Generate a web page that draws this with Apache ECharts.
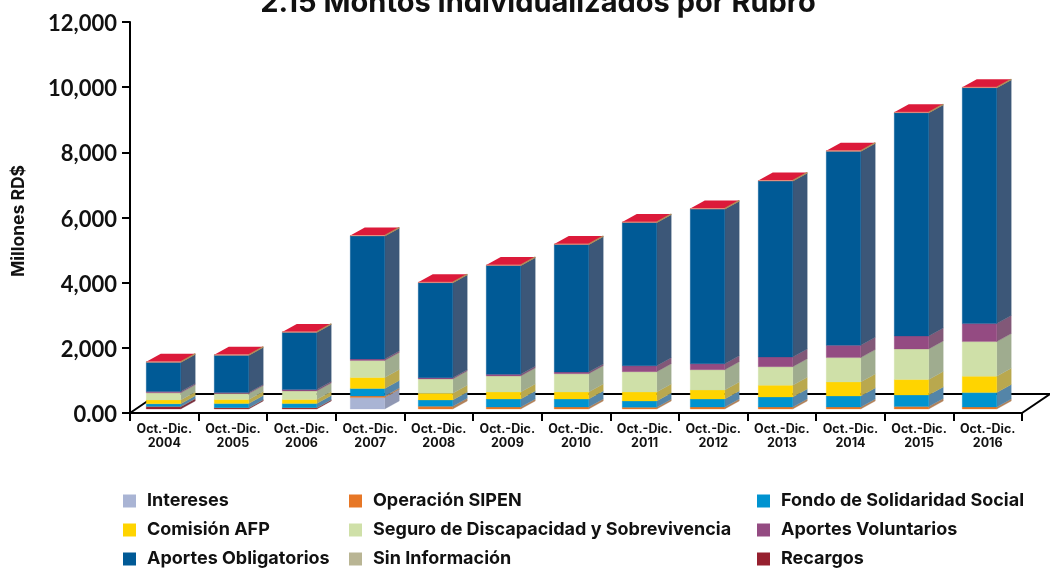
<!DOCTYPE html>
<html>
<head>
<meta charset="utf-8">
<style>html,body{margin:0;padding:0;background:#fff}#c{width:1050px;height:568px}</style>
<script src="https://cdn.jsdelivr.net/npm/echarts@6/dist/echarts.min.js"></script>
</head>
<body>
<div id="c"></div>
<script>
const categories = ['2004','2005','2006','2007','2008','2009','2010','2011','2012','2013','2014','2015','2016'];
const yTickLabels = ['0.00','2,000','4,000','6,000','8,000','10,000','12,000'];

const recargosBase  = [70,30,30,0,0,0,0,0,0,0,0,0,0];
const intereses     = [0,0,0,350,0,0,0,0,0,0,0,0,0];
const sipen         = [10,12,12,50,83,61,61,52,61,61,61,74,61];
const fondo         = [80,123,123,227,193,245,245,193,245,307,338,356,442];
const comision      = [120,123,123,338,205,215,215,276,276,359,430,473,500];
const seguro        = [215,184,264,522,440,491,562,623,623,571,749,939,1065];
const voluntarios   = [40,35,43,50,40,52,52,184,184,298,378,399,553];
const obligatorios  = [900,1145,1760,3775,2915,3340,3914,4396,4749,5403,5956,6852,7239];
const sinInfo       = [8,8,8,8,8,8,8,8,8,8,8,8,8];
const recargosTop   = [4,4,4,4,4,4,4,4,4,4,4,4,4];

const layers = [
  {name:'Recargos', values:recargosBase, color:'#96202F', side:'#7a3040'},
  {name:'Intereses', values:intereses, color:'#A9B4D4', side:'#9098B3'},
  {name:'Operación SIPEN', values:sipen, color:'#E77726', side:'#B2825A'},
  {name:'Fondo de Solidaridad Social', values:fondo, color:'#0093D0', side:'#5485A8'},
  {name:'Comisión AFP', values:comision, color:'#FFD400', side:'#B9A84E'},
  {name:'Seguro de Discapacidad y Sobrevivencia', values:seguro, color:'#CFE0A8', side:'#9FAC8F'},
  {name:'Aportes Voluntarios', values:voluntarios, color:'#944B82', side:'#825878'},
  {name:'Aportes Obligatorios', values:obligatorios, color:'#005A96', side:'#3C5778'},
  {name:'Sin Información', values:sinInfo, color:'#B9B594', side:'#A89A78'},
  {name:'Recargos', values:recargosTop, color:'#96202F', side:'#B08A5A', cap:'#DC1A3A'}
];
const legendColumns = [
  {left:123, names:['Intereses','Comisión AFP','Aportes Obligatorios']},
  {left:349, names:['Operación SIPEN','Seguro de Discapacidad y Sobrevivencia','Sin Información']},
  {left:757, names:['Fondo de Solidaridad Social','Aportes Voluntarios','Recargos']}
];

const FONT = 'Inter, "Open Sans", sans-serif';
const NUMFONT = 'Lato, "Open Sans", sans-serif';
const DX = 14.5, DY = -8, BAR = 34.5;

function barRender(layer) {
  return function (params, api) {
    const i = api.value(0), lo = api.value(1), hi = api.value(2);
    if (hi <= lo) return null;
    const a = api.coord([i, lo]), b = api.coord([i, hi]);
    const x = a[0] - BAR / 2, xr = x + BAR, yb = a[1], yt = b[1];
    const kids = [
      {type:'polygon', shape:{points:[[xr,yt],[xr+DX,yt+DY],[xr+DX,yb+DY],[xr,yb]]},
       style:{fill:layer.side, stroke:layer.side, lineWidth:0.3}},
      {type:'rect', shape:{x:x, y:yt, width:BAR, height:yb-yt},
       style:{fill:layer.color, stroke:layer.color, lineWidth:0.3}}
    ];
    if (layer.cap) {
      kids.push({type:'polygon', shape:{points:[[x,yt],[xr,yt],[xr+DX,yt+DY],[x+DX,yt+DY]]},
        style:{fill:layer.cap}});
      kids.push({type:'line', shape:{x1:xr,y1:yt,x2:xr+DX,y2:yt+DY},
        style:{stroke:'#B08A5A', lineWidth:1.4}});
      kids.push({type:'line', shape:{x1:x,y1:yt,x2:xr,y2:yt},
        style:{stroke:'#F2A58E', lineWidth:0.8}});
    }
    return {type:'group', children:kids};
  };
}

const running = categories.map(() => 0);
const barSeries = layers.map(layer => {
  const data = layer.values.map((v, i) => {
    const lo = running[i];
    running[i] += v;
    return [i, lo, running[i]];
  });
  return {
    type:'custom', name:layer.name, xAxisIndex:1, yAxisIndex:1, z:3,
    coordinateSystem:'cartesian2d', clip:false, silent:true,
    itemStyle:{color:layer.color},
    encode:{x:0, y:[1,2]},
    renderItem:barRender(layer), data:data
  };
});

const floorSeries = {
  type:'custom', name:'Piso', xAxisIndex:0, yAxisIndex:0, z:1, silent:true, clip:false,
  coordinateSystem:'cartesian2d', encode:{x:0,y:1}, data:[[0,0]],
  renderItem:function (params, api) {
    const cs = params.coordSys, bottom = cs.y + cs.height, right = cs.x + cs.width;
    const ln = (x1,y1,x2,y2) => ({type:'line', shape:{x1,y1,x2,y2}, style:{stroke:'#000', lineWidth:2}});
    return {type:'group', children:[
      ln(cs.x, bottom, cs.x+28, bottom-19),
      ln(cs.x+28, bottom-19, right+28, bottom-19),
      ln(right, bottom, right+28, bottom-19)
    ]};
  }
};

const chart = echarts.init(document.getElementById('c'), null, {renderer:'canvas'});
chart.setOption({
  animation:false,
  backgroundColor:'#fff',
  title:{text:'2.15 Montos Individualizados por Rubro', left:533, top:-16, textAlign:'center',
    textStyle:{fontFamily:FONT, fontWeight:'bold', fontSize:29, color:'#111'}},
  legend:legendColumns.map(c => ({
    orient:'vertical', left:c.left, top:492, height:90, padding:0, itemWidth:13, itemHeight:13, itemGap:11,
    icon:'rect', data:c.names, selectedMode:false,
    textStyle:{fontFamily:FONT, fontWeight:'bold', fontSize:18, lineHeight:18, color:'#111', padding:[0,0,0,6]}
  })),
  grid:[
    {left:130, width:892, top:22, height:391},
    {left:129.5, width:884, top:18, height:391}
  ],
  xAxis:[
    {type:'category', gridIndex:0, data:categories,
     axisLine:{lineStyle:{color:'#000', width:2}},
     axisTick:{show:true, length:8, interval:0, lineStyle:{color:'#000', width:2}},
     axisLabel:{interval:0, margin:9, fontFamily:FONT, fontWeight:'bold', fontSize:12.5, lineHeight:14, color:'#111',
       formatter:v => 'Oct.-Dic.\n' + v}},
    {type:'category', gridIndex:1, data:categories, show:false}
  ],
  yAxis:[
    {type:'value', gridIndex:0, min:0, max:12000, interval:2000,
     name:'Millones RD$', nameLocation:'middle', nameGap:102, nameRotate:90,
     nameTextStyle:{fontFamily:FONT, fontWeight:'bold', fontSize:17.5, color:'#111', padding:[0,7,0,0]},
     splitLine:{show:false},
     axisLine:{show:true, lineStyle:{color:'#000', width:2}},
     axisTick:{show:true, length:8, lineStyle:{color:'#000', width:2}},
     axisLabel:{margin:13, fontFamily:NUMFONT, fontWeight:'bold', fontSize:22, color:'#111',
       verticalAlign:'top', padding:[-9,0,0,0],
       formatter:(v) => yTickLabels[Math.round(v / 2000)]}},
    {type:'value', gridIndex:1, min:0, max:12000, interval:2000, show:false, splitLine:{show:false}}
  ],
  series:[floorSeries].concat(barSeries)
});
</script>
</body>
</html>
